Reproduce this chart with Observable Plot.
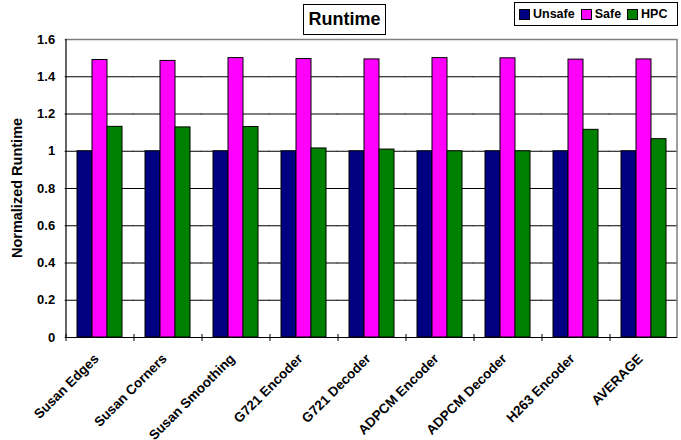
<!DOCTYPE html>
<html>
<head>
<meta charset="utf-8">
<script src="https://cdn.jsdelivr.net/npm/d3@7"></script>
<script src="https://cdn.jsdelivr.net/npm/@observablehq/plot@0.6"></script>
<style>
  html, body { margin: 0; padding: 0; background: #fff; overflow: hidden; }
  #wrap { position: relative; width: 681px; height: 440px; font-family: "Liberation Sans", Arial, sans-serif; font-weight: bold; }
  #title { position: absolute; left: 303px; top: 4px; width: 81px; height: 29px; border: 1px solid #000; box-sizing: content-box;
           font-size: 18px; line-height: 29px; text-align: center; background: #fff; }
  #legend { position: absolute; left: 514px; top: 2px; width: 164px; height: 24px; border: 1px solid #000; background: #fff;
            font-size: 12.5px; line-height: 22px; display: flex; align-items: center; padding-left: 4px; box-sizing: border-box; }
  #legend .item { display: flex; align-items: center; margin-right: 6px; }
  #legend .sw { width: 9px; height: 9px; border: 1px solid #000; margin-right: 3px; }
  #ylabel { position: absolute; left: 17px; top: 188px; transform: translate(-50%, -50%) rotate(-90deg); white-space: nowrap; font-size: 14.5px; }
  #chart { position: absolute; left: 0; top: 0; }
</style>
</head>
<body>
<div id="wrap">
  <div id="chart"></div>
  <div id="title">Runtime</div>
  <div id="legend"></div>
  <div id="ylabel">Normalized Runtime</div>
</div>
<script>
const categories = ["Susan Edges", "Susan Corners", "Susan Smoothing", "G721 Encoder", "G721 Decoder", "ADPCM Encoder", "ADPCM Decoder", "H263 Encoder", "AVERAGE"];
const seriesNames = ["Unsafe", "Safe", "HPC"];
const unsafe = [1, 1, 1, 1, 1, 1, 1, 1, 1];
const safe = [1.49, 1.485, 1.50, 1.495, 1.493, 1.50, 1.499, 1.492, 1.493];
const hpc = [1.131, 1.128, 1.13, 1.015, 1.009, 1.0, 1.0, 1.115, 1.065];
const yTicks = [0, 0.2, 0.4, 0.6, 0.8, 1, 1.2, 1.4, 1.6];
const colors = ["#000080", "#FF00FF", "#008000"];

const seriesValues = [unsafe, safe, hpc];
const data = categories.flatMap((c, i) => seriesNames.map((s, j) => ({cat: c, series: s, value: seriesValues[j][i]})));

const W = 681, ML = 62, MR = 1;
const padInner = 0.33, padOuter = padInner / 2;
const step = (W - ML - MR) / categories.length;
const halfGap = step * padInner / 2;
const barW = step * (1 - padInner) / seriesNames.length;
const yMax = yTicks[yTicks.length - 1];
const firstCat = categories[0];
const lastCat = categories[categories.length - 1];
const firstSeries = seriesNames[0];
const lastSeries = seriesNames[seriesNames.length - 1];
const FONT = "'Liberation Sans', Arial, sans-serif";
const fmt = d => String(+d.toFixed(1));

function build(useTextLabels) {
  const marks = [
    Plot.ruleY(yTicks.slice(1, -1), {stroke: "#000", strokeWidth: 1, insetLeft: -halfGap, insetRight: -halfGap}),
    Plot.ruleY([yMax], {stroke: "#808080", strokeWidth: 1.5, insetLeft: -halfGap, insetRight: -halfGap}),
    Plot.ruleX([lastCat], {fx: d => d, x: () => lastSeries, y1: 0, y2: yMax, dx: barW / 2 + halfGap - 1, stroke: "#808080", strokeWidth: 1.5}),
    Plot.barY(data, {fx: "cat", x: "series", y: "value", fill: "series", stroke: "#000", strokeWidth: 1}),
    Plot.ruleY([0], {stroke: "#000", strokeWidth: 1.2, insetLeft: -halfGap, insetRight: -halfGap}),
    Plot.ruleX(categories, {fx: d => d, x: () => firstSeries, y1: 0, y2: 0, insetTop: -3, insetBottom: -4, dx: -(barW / 2 + halfGap), stroke: "#000"}),
    Plot.ruleX([firstCat], {fx: d => d, x: () => firstSeries, y1: 0, y2: yMax, dx: -(barW / 2 + halfGap), stroke: "#000", strokeWidth: 1.2})
  ];
  if (useTextLabels) {
    marks.push(
      Plot.text(yTicks, {fx: () => firstCat, y: d => d, text: fmt, frameAnchor: "left", textAnchor: "end", dx: -(halfGap + 10),
                         fontSize: 13, fontWeight: "bold", fontFamily: FONT, fill: "#000"}),
      Plot.text(categories, {fx: d => d, text: d => d, frameAnchor: "bottom", rotate: -45, textAnchor: "end", lineAnchor: "middle",
                             dx: -3, dy: 19, fontSize: 13.5, fontWeight: "bold", fontFamily: FONT, fill: "#000"})
    );
  } else {
    marks.push(Plot.axisY({ticks: yTicks, tickFormat: fmt, tickSize: 4, label: null, dx: -halfGap}));
  }
  return Plot.plot({
    width: W,
    height: 440,
    marginTop: 39,
    marginBottom: 103,
    marginLeft: ML,
    marginRight: MR,
    fx: useTextLabels ? {domain: categories, paddingInner: padInner, paddingOuter: padOuter, axis: null}
                      : {domain: categories, paddingInner: padInner, paddingOuter: padOuter, label: null, tickRotate: -45, tickSize: 0, tickPadding: 17},
    x: {domain: seriesNames, padding: 0, axis: null},
    y: {domain: [0, yMax], axis: null},
    color: {domain: seriesNames, range: colors},
    marks
  });
}

let chart = build(true);
if (chart.querySelectorAll('g[aria-label="rule"] line').length === 0) chart = build(false);
document.getElementById("chart").appendChild(chart);

const legend = document.getElementById("legend");
seriesNames.forEach((s, i) => {
  const item = document.createElement("div");
  item.className = "item";
  const sw = document.createElement("div");
  sw.className = "sw";
  sw.style.background = colors[i];
  const t = document.createElement("span");
  t.textContent = s;
  item.appendChild(sw);
  item.appendChild(t);
  legend.appendChild(item);
});
</script>
</body>
</html>
